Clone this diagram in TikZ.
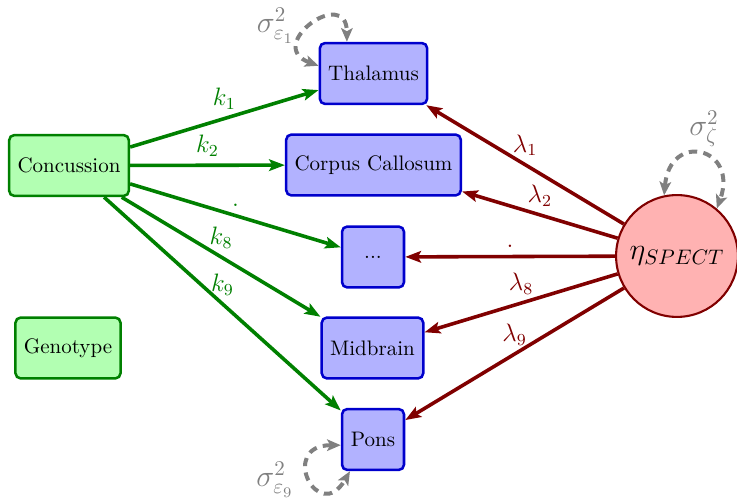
\documentclass[tikz,border=0pt]{standalone}
\usetikzlibrary{arrows.meta}
\begin{document}
\begin{tikzpicture}[x=0.476pt,y=0.476pt,
  box/.style={draw, rounded corners=2.5pt, very thick, minimum height=29pt,
    minimum width=29.5pt, inner xsep=4pt, inner ysep=3pt},
  exo/.style={box, fill=green!30, draw=green!50!black},
  ind/.style={box, fill=blue!30, draw=blue!80!black},
  lat/.style={circle, draw=red!50!black, fill=red!30, line width=1pt,
    minimum size=58pt, inner sep=0pt},
  kpath/.style={green!50!black, line width=1.7pt,
    -{Stealth[length=7.5pt,width=5.5pt,inset=1.5pt]}},
  lpath/.style={red!50!black, line width=1.7pt,
    -{Stealth[length=7.5pt,width=5.5pt,inset=1.5pt]}},
  klab/.style={above, text=green!50!black, font=\large},
  llab/.style={above, text=red!50!black, font=\large},
  varloop/.style={gray, line width=1.9pt, dash pattern=on 4pt off 3pt,
    {Stealth[length=6.5pt,width=5.5pt,inset=1.5pt]}-{Stealth[length=6.5pt,width=5.5pt,inset=1.5pt]}},
  varlab/.style={text=gray, font=\Large, inner sep=0pt}
]
\useasboundingbox (0,0) rectangle (737,-501);

% exogenous variables
\node[exo] (con) at (69,-165.5) {Concussion};
\node[exo] (gen) at (68,-348) {Genotype};

% indicators
\node[ind] (th)  at (373.5,-73.5)  {Thalamus};
\node[ind] (cc)  at (373.5,-165)   {Corpus Callosum};
\node[ind] (dot) at (373,-257)     {...};
\node[ind] (mb)  at (372.5,-348)   {Midbrain};
\node[ind] (po)  at (373,-439.5)   {Pons};

% latent factor
\node[lat] (eta) at (677,-256) {\Large$\eta_{SPECT}$};

% regressions on Concussion
\draw[kpath] (con) -- node[klab] {$k_1$} (th);
\draw[kpath] (con) -- node[klab] {$k_2$} (cc);
\draw[kpath] (con) -- node[klab] {$.$} (dot);
\draw[kpath] (con) -- node[klab] {$k_8$} (mb);
\draw[kpath] (con) -- node[klab] {$k_9$} (po);

% loadings
\draw[lpath] (eta) -- node[llab] {$\lambda_1$} (th);
\draw[lpath] (eta) -- node[llab] {$\lambda_2$} (cc);
\draw[lpath] (eta) -- node[llab] {$.$} (dot);
\draw[lpath] (eta) -- node[llab] {$\lambda_8$} (mb);
\draw[lpath] (eta) -- node[llab] {$\lambda_9$} (po);

% residual variances
\draw[varloop] (th.172) .. controls +(160:28pt) and +(90:27pt) .. (th.130);
\node[varlab] (s1) at (275.5,-25.5) {$\sigma^2_{\varepsilon_1}$};
\draw[varloop] (po.190) .. controls +(180:30pt) and +(240:30pt) .. (po.234);
\node[varlab] (s9) at (275,-479.5) {$\sigma^2_{\varepsilon_9}$};
\draw[varloop] (eta.102) .. controls +(85:31pt) and +(70:31pt) .. (eta.50);
\node[varlab] (sz) at (704,-129) {$\sigma^2_{\zeta}$};
\end{tikzpicture}
\end{document}
